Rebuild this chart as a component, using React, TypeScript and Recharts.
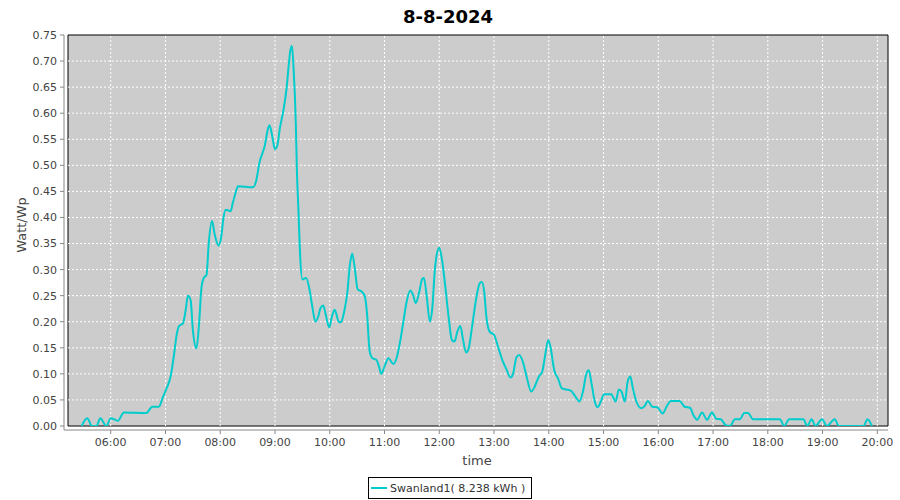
import { LineChart, Line, XAxis, YAxis, ReferenceArea, ReferenceLine } from 'recharts'

// time of day in decimal hours
const hours = [
  5.47, 5.57, 5.66, 5.74, 5.81, 5.92, 6.0, 6.13, 6.24, 6.65, 6.76, 6.88, 6.955, 7.02, 7.1, 7.16, 7.2, 7.25,
  7.32, 7.37, 7.41, 7.46, 7.5, 7.565, 7.61, 7.66, 7.7, 7.75, 7.79, 7.85, 7.9, 7.97, 8.02, 8.06, 8.1, 8.19,
  8.23, 8.28, 8.325, 8.6, 8.66, 8.72, 8.76, 8.81, 8.87, 8.9, 8.95, 9.0, 9.04, 9.09, 9.15, 9.21, 9.25, 9.28,
  9.31, 9.34, 9.38, 9.4, 9.43, 9.46, 9.5, 9.57, 9.63, 9.68, 9.74, 9.79, 9.83, 9.88, 9.92, 9.99, 10.04, 10.09,
  10.17, 10.21, 10.27, 10.32, 10.365, 10.41, 10.46, 10.51, 10.58, 10.64, 10.68, 10.73, 10.78, 10.85, 10.9,
  10.94, 11.0, 11.07, 11.16, 11.22, 11.28, 11.34, 11.4, 11.47, 11.52, 11.57, 11.63, 11.69, 11.72, 11.77,
  11.83, 11.87, 11.92, 11.96, 12.0, 12.05, 12.11, 12.17, 12.23, 12.28, 12.33, 12.385, 12.43, 12.49, 12.53,
  12.6, 12.67, 12.74, 12.78, 12.82, 12.86, 12.92, 13.0, 13.07, 13.15, 13.23, 13.3, 13.35, 13.41, 13.46,
  13.53, 13.59, 13.68, 13.74, 13.82, 13.88, 13.93, 13.99, 14.03, 14.1, 14.17, 14.24, 14.32, 14.4, 14.49,
  14.56, 14.63, 14.68, 14.73, 14.78, 14.84, 14.89, 14.95, 15.01, 15.14, 15.22, 15.28, 15.33, 15.39, 15.44,
  15.49, 15.53, 15.6, 15.69, 15.75, 15.81, 15.89, 15.98, 16.08, 16.15, 16.23, 16.39, 16.48, 16.58, 16.64,
  16.71, 16.8, 16.89, 16.98, 17.06, 17.14, 17.24, 17.31, 17.4, 17.49, 17.57, 17.64, 17.73, 18.22, 18.3,
  18.39, 18.65, 18.72, 18.8, 18.87, 18.99, 19.08, 19.22, 19.3, 19.75, 19.82, 19.9,
]

// Watt/Wp
const watts = [
  0, 0.015, 0, 0, 0.015, 0, 0.015, 0.01, 0.026, 0.025, 0.037, 0.037, 0.056, 0.072, 0.098, 0.14, 0.172, 0.192,
  0.197, 0.223, 0.25, 0.241, 0.185, 0.149, 0.191, 0.268, 0.284, 0.29, 0.35, 0.393, 0.367, 0.346, 0.364, 0.4, 0.415, 0.412,
  0.428, 0.447, 0.46, 0.458, 0.472, 0.507, 0.52, 0.536, 0.569, 0.577, 0.556, 0.531, 0.537, 0.572, 0.603, 0.646, 0.691, 0.72,
  0.729, 0.685, 0.582, 0.492, 0.409, 0.326, 0.281, 0.284, 0.262, 0.23, 0.2, 0.21, 0.226, 0.231, 0.217, 0.189, 0.21, 0.223,
  0.199, 0.2, 0.223, 0.255, 0.306, 0.331, 0.3, 0.262, 0.258, 0.249, 0.217, 0.143, 0.13, 0.127, 0.114,
  0.1, 0.114, 0.13, 0.119, 0.13, 0.159, 0.197, 0.236, 0.26, 0.252, 0.236, 0.255, 0.282, 0.284, 0.249,
  0.2, 0.223, 0.3, 0.332, 0.342, 0.319, 0.268, 0.21, 0.165, 0.162, 0.181, 0.192, 0.168, 0.141, 0.146,
  0.191, 0.242, 0.274, 0.276, 0.258, 0.21, 0.181, 0.175, 0.153, 0.127, 0.108, 0.093, 0.101, 0.132, 0.136,
  0.122, 0.097, 0.066, 0.075, 0.095, 0.104, 0.133, 0.165, 0.152, 0.107, 0.091, 0.072, 0.07, 0.068, 0.056,
  0.047, 0.069, 0.098, 0.107, 0.082, 0.047, 0.036, 0.047, 0.061, 0.061, 0.047, 0.07, 0.066, 0.047, 0.085,
  0.095, 0.075, 0.047, 0.034, 0.038, 0.048, 0.037, 0.036, 0.024, 0.037, 0.048, 0.048, 0.037, 0.035, 0.021,
  0.012, 0.026, 0.012, 0.026, 0.014, 0.013, 0.001, 0, 0.013, 0.013, 0.025, 0.025, 0.013, 0.013, 0,
  0.013, 0.013, 0, 0.013, 0, 0.013, 0, 0.013, 0, 0, 0.013, 0,
]

const hourTicks = [6, 7, 8, 9, 10, 11, 12, 13, 14, 15, 16, 17, 18, 19, 20]
const wattTicks = [0, 0.05, 0.1, 0.15, 0.2, 0.25, 0.3, 0.35, 0.4, 0.45, 0.5, 0.55, 0.6, 0.65, 0.7, 0.75]
const xRange = [5.22, 20.195]
const yRange = [0, 0.75]

const title = '8-8-2024'
const seriesName = 'Swanland1( 8.238 kWh )'

const data = hours.map((t, i) => ({ t, v: watts[i] }))

const FONT = '"DejaVu Sans", Verdana, sans-serif'
const CYAN = '#00cccc'
const hhmm = (h: number) => `${String(h).padStart(2, '0')}:00`

export default function App() {
  return (
    <div style={{ position: 'absolute', left: 0, top: 0, width: 900, height: 500, background: '#fff', fontFamily: FONT }}>
      <LineChart width={900} height={500} data={data} margin={{ top: 35, right: 12, bottom: 30, left: 0 }}>
        <ReferenceArea x1={xRange[0]} x2={xRange[1]} y1={yRange[0]} y2={yRange[1]} fill="#cccccc" fillOpacity={1} stroke="#000" strokeWidth={1} />
        {hourTicks.map(h => (
          <ReferenceLine key={'x' + h} x={h} stroke="#fff" strokeDasharray="2 2" segment={[{ x: h, y: yRange[0] }, { x: h, y: yRange[1] }]} />
        ))}
        {wattTicks.slice(1, -1).map(w => (
          <ReferenceLine key={'y' + w} y={w} stroke="#fff" strokeDasharray="2 2" segment={[{ x: xRange[0], y: w }, { x: xRange[1], y: w }]} />
        ))}
        <XAxis
          type="number" dataKey="t" domain={xRange} ticks={hourTicks} tickFormatter={hhmm} interval={0}
          padding={{ left: 4, right: 0 }} allowDataOverflow height={40}
          tick={{ fill: '#444', fontSize: 11, fontFamily: FONT }}
          tickLine={{ stroke: '#888' }} axisLine={{ stroke: '#888' }} tickSize={4} tickMargin={4}
        />
        <YAxis
          type="number" domain={yRange} ticks={wattTicks} tickFormatter={(v: number) => v.toFixed(2)} interval={0}
          padding={{ top: 0, bottom: 4 }} allowDataOverflow width={64}
          tick={{ fill: '#444', fontSize: 11, fontFamily: FONT }}
          tickLine={{ stroke: '#888' }} axisLine={{ stroke: '#888' }} tickSize={4} tickMargin={3}
        />
        <Line type="monotone" dataKey="v" stroke={CYAN} strokeWidth={2} dot={false} isAnimationActive={false} />
      </LineChart>
      <svg width={900} height={500} style={{ position: 'absolute', left: 0, top: 0, pointerEvents: 'none' }} fontFamily={FONT}>
        <text x={448} y={23} textAnchor="middle" fontSize={18} fontWeight="bold" fill="#000">{title}</text>
        <text x={21} y={225} transform="rotate(-90 21 225)" textAnchor="middle" dominantBaseline="central" fontSize={13} fill="#444">Watt/Wp</text>
        <text x={477} y={465} textAnchor="middle" fontSize={13} fill="#444">time</text>
        <rect x={368.5} y={477.5} width={163} height={21} fill="#fff" stroke="#000" />
        <line x1={371} x2={387} y1={488} y2={488} stroke={CYAN} strokeWidth={2} />
        <text x={390} y={492} fontSize={11} fill="#333">{seriesName}</text>
      </svg>
    </div>
  )
}
